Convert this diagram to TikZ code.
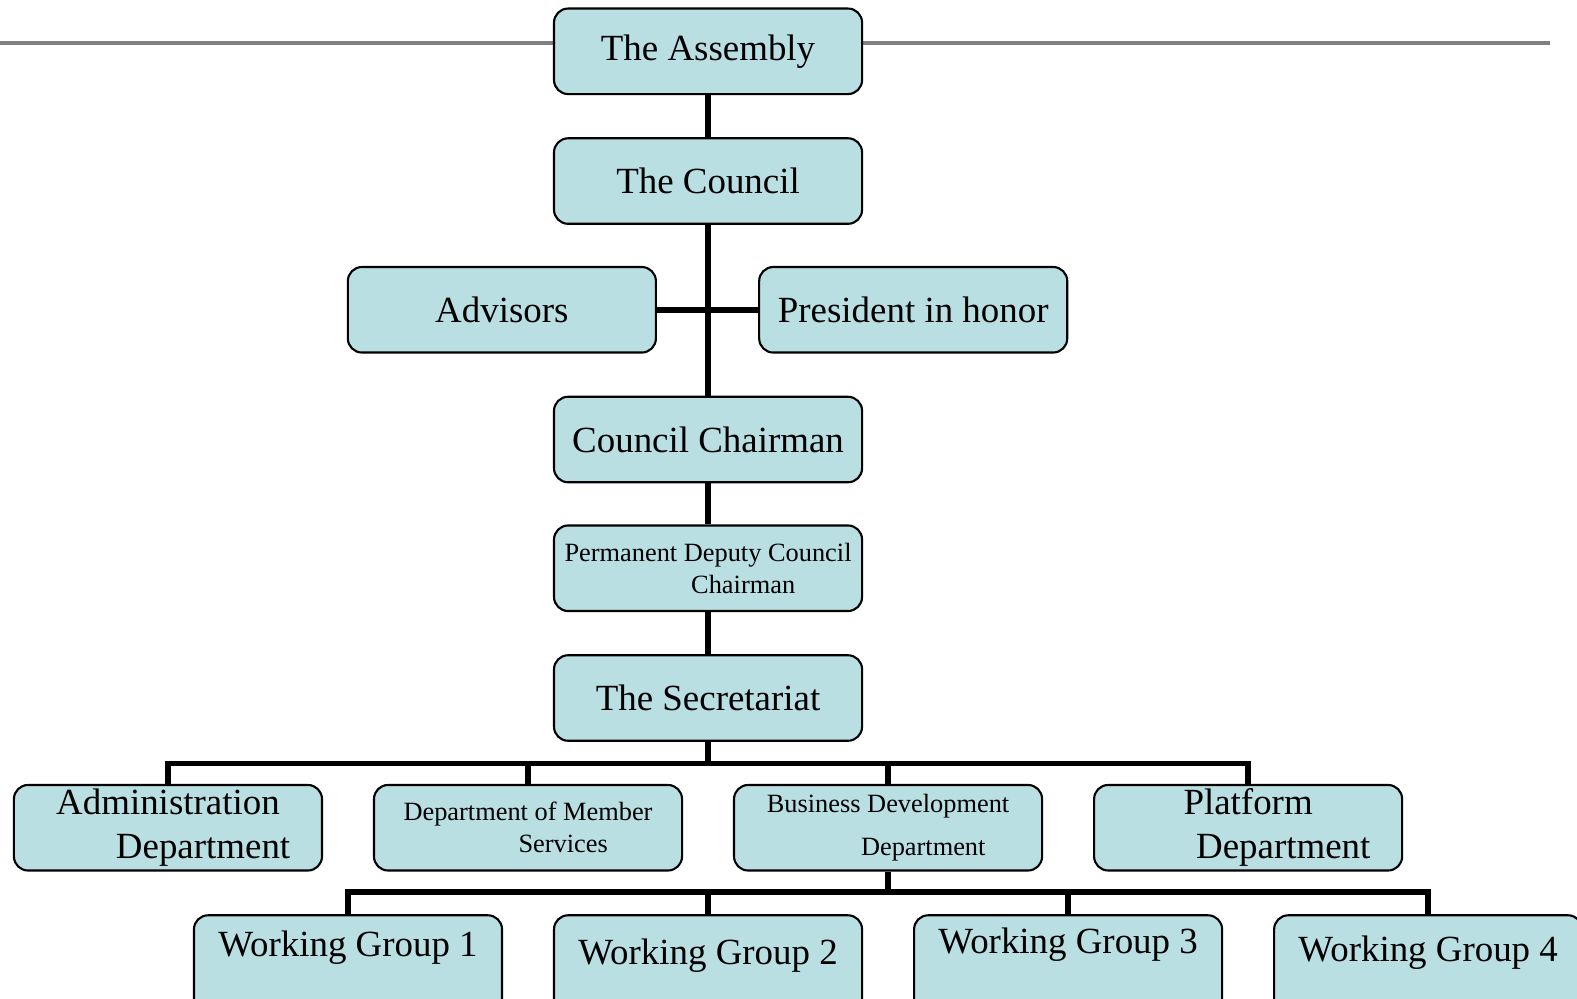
\documentclass[tikz,border=0pt]{standalone}
\usepackage{fontspec}
\setmainfont{Liberation Serif}
\definecolor{boxfill}{RGB}{186,223,227}
\tikzset{
  box/.style={draw, rounded corners=4pt, fill=boxfill, line width=0.6pt,
    minimum width=3.08cm, minimum height=0.855cm, inner sep=0pt, align=center,
    font=\fontsize{10.5}{12.5}\selectfont},
  small/.style={font=\fontsize{7.5}{9.1}\selectfont},
  wg/.style={box, anchor=north, text depth=22pt},
  link/.style={line width=1.6pt},
  rule/.style={gray, line width=1.1pt}
}
\begin{document}
\begin{tikzpicture}[x=0.010057cm, y=-0.010057cm]
  \useasboundingbox (0,0) rectangle (1568,993);
  \clip (0,0) rectangle (1568,993);
  \draw [rule] (0,43) -- (1541,43);
  \node [box] (assembly) at (704,51) {The Assembly};
  \node [box] (council) at (704,180) {The Council};
  \node [box] (advisors) at (499,308) {Advisors};
  \node [box] (honor) at (908,308) {President in honor};
  \node [box] (chairman) at (704,437) {Council Chairman};
  \node [box, small] (deputy) at (704,565) {Permanent Deputy Council\\\hspace*{20pt}Chairman};
  \node [box] (secretariat) at (704,694) {The Secretariat};
  \node [box] (admin) at (167,823) {Administration\\\hspace*{20pt}Department};
  \node [box, small] (members) at (525,823) {Department of Member\\\hspace*{20pt}Services};
  \node [box, font=\fontsize{7.5}{12}\selectfont] (business) at (883,823) {Business Development\\\hspace*{20pt}Department};
  \node [box] (platform) at (1241,823) {Platform\\\hspace*{20pt}Department};
  \node [wg, text height=11.7pt] (wg1) at (346,909) {Working Group 1};
  \node [wg, text height=13.9pt] (wg2) at (704,909) {Working Group 2};
  \node [wg, text height=10.8pt] (wg3) at (1062,909) {Working Group 3};
  \node [wg, text height=13.1pt] (wg4) at (1420,909) {Working Group 4};
  \coordinate (depts) at (704,759);
  \coordinate (groups) at (883,887);
  \draw [link] (assembly) -- (council);
  \draw [link] (council) -- (chairman);
  \draw [link] (advisors) -- (honor);
  \draw [link] (chairman) -- (deputy);
  \draw [link] (deputy) -- (secretariat);
  \draw [link] (secretariat) -- (depts);
  \foreach \d in {admin,members,business,platform}
    \draw [link] (depts) -| (\d.north);
  \draw [link] (business) -- (groups);
  \foreach \g in {wg1,wg2,wg3,wg4}
    \draw [link] (groups) -| (\g.north);
\end{tikzpicture}
\end{document}
